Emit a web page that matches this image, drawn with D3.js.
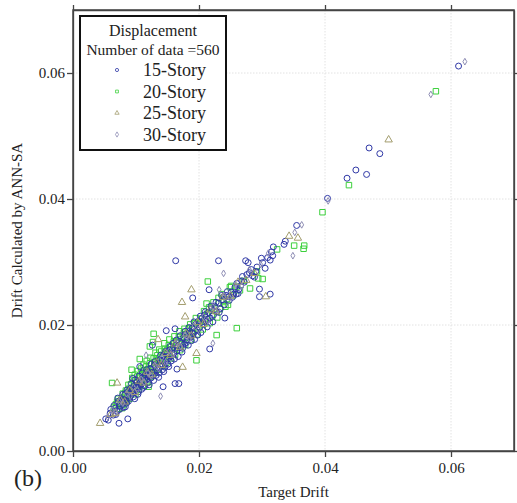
<!doctype html>
<html lang="en">
<head>
    <title>Drift scatter</title>
    <script src='https://d3js.org/d3.v7.min.js'></script>
    <style>
        body { margin: 0; background: #fff; }
        svg text { font-family: "Liberation Serif", "Times New Roman", serif; fill: #222; }
        .grid line { stroke: #e2e2e2; stroke-width: 1; stroke-dasharray: 1.5 1.5; }
        .axis path, .axis line { stroke: #444; stroke-width: 1.3; }
        .axis text { font-family: "Liberation Serif", serif; font-size: 15px; }
    </style>
</head>
<body>
<div id="chart"></div>
<script>
    // Tick values for both axes
    var xTicks = [0, 0.02, 0.04, 0.06];
    var yTicks = [0, 0.02, 0.04, 0.06];

    // Series labels (legend order)
    var seriesNames = ["15-Story", "20-Story", "25-Story", "30-Story"];

    // [target drift, drift calculated by ANN-SA]
    var story15 = [
        [0.0052,0.0051],[0.0073,0.0044],[0.0087,0.0051],[0.0059,0.0060],[0.0056,0.0049],[0.0064,0.0057],[0.0067,0.0068],
        [0.0070,0.0063],[0.0072,0.0079],[0.0075,0.0071],[0.0077,0.0083],[0.0079,0.0074],[0.0080,0.0069],[0.0082,0.0089],
        [0.0084,0.0080],[0.0085,0.0076],[0.0087,0.0094],[0.0089,0.0085],[0.0091,0.0099],[0.0092,0.0088],[0.0095,0.0115],
        [0.0095,0.0092],[0.0097,0.0104],[0.0098,0.0083],[0.0100,0.0097],[0.0101,0.0109],[0.0103,0.0101],[0.0104,0.0094],
        [0.0106,0.0134],[0.0106,0.0112],[0.0108,0.0105],[0.0109,0.0098],[0.0111,0.0117],[0.0112,0.0110],[0.0114,0.0103],
        [0.0115,0.0121],[0.0117,0.0114],[0.0118,0.0126],[0.0120,0.0109],[0.0121,0.0119],[0.0123,0.0131],[0.0124,0.0116],
        [0.0126,0.0168],[0.0126,0.0125],[0.0128,0.0112],[0.0129,0.0136],[0.0131,0.0127],[0.0132,0.0120],[0.0134,0.0140],
        [0.0135,0.0132],[0.0137,0.0124],[0.0138,0.0145],[0.0140,0.0136],[0.0142,0.0129],[0.0143,0.0102],[0.0143,0.0151],
        [0.0145,0.0141],[0.0146,0.0133],[0.0148,0.0191],[0.0148,0.0155],[0.0150,0.0146],[0.0151,0.0138],[0.0153,0.0160],
        [0.0155,0.0150],[0.0156,0.0143],[0.0158,0.0163],[0.0160,0.0155],[0.0162,0.0194],[0.0162,0.0107],[0.0163,0.0302],
        [0.0163,0.0168],[0.0165,0.0130],[0.0165,0.0159],[0.0167,0.0150],[0.0168,0.0107],[0.0169,0.0174],[0.0171,0.0165],
        [0.0173,0.0157],[0.0175,0.0180],[0.0177,0.0170],[0.0179,0.0185],[0.0181,0.0176],[0.0183,0.0168],[0.0185,0.0190],
        [0.0187,0.0181],[0.0189,0.0195],[0.0190,0.0243],[0.0191,0.0186],[0.0193,0.0177],[0.0195,0.0201],[0.0197,0.0192],
        [0.0199,0.0206],[0.0201,0.0196],[0.0203,0.0188],[0.0205,0.0211],[0.0207,0.0201],[0.0209,0.0216],[0.0211,0.0206],
        [0.0213,0.0197],[0.0215,0.0220],[0.0216,0.0256],[0.0217,0.0162],[0.0218,0.0211],[0.0220,0.0226],[0.0223,0.0216],
        [0.0225,0.0230],[0.0228,0.0221],[0.0231,0.0302],[0.0231,0.0235],[0.0234,0.0226],[0.0237,0.0240],[0.0239,0.0245],
        [0.0240,0.0232],[0.0241,0.0211],[0.0243,0.0247],[0.0247,0.0245],[0.0248,0.0239],[0.0251,0.0252],[0.0255,0.0249],
        [0.0259,0.0249],[0.0260,0.0266],[0.0263,0.0256],[0.0266,0.0262],[0.0269,0.0277],[0.0272,0.0268],[0.0274,0.0302],
        [0.0278,0.0299],[0.0280,0.0283],[0.0285,0.0278],[0.0292,0.0292],[0.0290,0.0285],[0.0296,0.0257],[0.0296,0.0245],
        [0.0301,0.0299],[0.0305,0.0290],[0.0309,0.0307],[0.0313,0.0249],[0.0313,0.0303],[0.0315,0.0316],[0.0317,0.0310],
        [0.0318,0.0324],[0.0335,0.0328],[0.0337,0.0333],[0.0355,0.0358],[0.0404,0.0401],[0.0435,0.0433],[0.0449,0.0446],
        [0.0466,0.0439],[0.0470,0.0481],[0.0487,0.0472],[0.0612,0.0611],
        [0.0060,0.0066],[0.0065,0.0072],[0.0068,0.0058],[0.0071,0.0084],[0.0074,0.0066],[0.0077,0.0078],[0.0079,0.0090],
        [0.0081,0.0079],[0.0083,0.0070],[0.0086,0.0097],[0.0088,0.0079],[0.0090,0.0092],[0.0093,0.0107],[0.0094,0.0096],
        [0.0096,0.0086],[0.0099,0.0113],[0.0101,0.0102],[0.0103,0.0090],[0.0105,0.0119],[0.0107,0.0108],[0.0110,0.0124],
        [0.0112,0.0101],[0.0114,0.0112],[0.0117,0.0129],[0.0119,0.0121],[0.0121,0.0105],[0.0124,0.0138],[0.0127,0.0120],
        [0.0130,0.0142],[0.0133,0.0129],[0.0136,0.0117],[0.0139,0.0152],[0.0141,0.0143],[0.0144,0.0126],[0.0147,0.0158],
        [0.0149,0.0150],[0.0152,0.0134],[0.0154,0.0166],[0.0157,0.0154],[0.0159,0.0171],[0.0161,0.0146],[0.0164,0.0176],
        [0.0166,0.0164],[0.0170,0.0183],[0.0172,0.0171],[0.0174,0.0163],[0.0178,0.0190],[0.0180,0.0172],[0.0184,0.0196],
        [0.0186,0.0185],[0.0188,0.0175],[0.0192,0.0205],[0.0194,0.0190],[0.0198,0.0184],[0.0202,0.0214],[0.0206,0.0205],
        [0.0210,0.0221],[0.0214,0.0209],[0.0219,0.0230],[0.0222,0.0205],[0.0227,0.0236],[0.0232,0.0220],[0.0236,0.0247],
        [0.0245,0.0253],[0.0253,0.0244],[0.0257,0.0260],[0.0262,0.0250],[0.0268,0.0270],[0.0276,0.0280],[0.0283,0.0288],
        [0.0288,0.0276],[0.0299,0.0306]
    ];

    var story20 = [
        [0.0065,0.0069],[0.0070,0.0078],[0.0073,0.0067],[0.0075,0.0072],[0.0078,0.0068],[0.0080,0.0085],[0.0081,0.0074],
        [0.0083,0.0092],[0.0085,0.0079],[0.0087,0.0088],[0.0089,0.0099],[0.0090,0.0083],[0.0092,0.0106],[0.0093,0.0129],
        [0.0095,0.0094],[0.0097,0.0112],[0.0099,0.0090],[0.0100,0.0104],[0.0102,0.0118],[0.0104,0.0097],[0.0106,0.0146],
        [0.0107,0.0110],[0.0109,0.0123],[0.0111,0.0104],[0.0113,0.0128],[0.0114,0.0116],[0.0116,0.0134],[0.0118,0.0109],
        [0.0120,0.0102],[0.0120,0.0124],[0.0122,0.0166],[0.0122,0.0139],[0.0124,0.0118],[0.0126,0.0131],[0.0127,0.0173],
        [0.0128,0.0147],[0.0130,0.0124],[0.0132,0.0137],[0.0134,0.0152],[0.0136,0.0129],[0.0138,0.0143],[0.0140,0.0158],
        [0.0142,0.0135],[0.0144,0.0149],[0.0146,0.0162],[0.0148,0.0140],[0.0150,0.0155],[0.0152,0.0168],[0.0155,0.0147],
        [0.0157,0.0161],[0.0160,0.0174],[0.0162,0.0153],[0.0165,0.0167],[0.0168,0.0181],[0.0170,0.0160],[0.0173,0.0173],
        [0.0176,0.0188],[0.0178,0.0168],[0.0181,0.0180],[0.0184,0.0195],[0.0187,0.0176],[0.0190,0.0188],[0.0193,0.0203],
        [0.0196,0.0144],[0.0197,0.0185],[0.0200,0.0197],[0.0203,0.0210],[0.0206,0.0193],[0.0209,0.0206],[0.0212,0.0234],
        [0.0213,0.0218],[0.0214,0.0269],[0.0217,0.0203],[0.0221,0.0214],[0.0225,0.0226],[0.0228,0.0184],[0.0229,0.0212],
        [0.0233,0.0225],[0.0238,0.0238],[0.0242,0.0229],[0.0246,0.0232],[0.0249,0.0260],[0.0251,0.0262],[0.0254,0.0247],
        [0.0260,0.0261],[0.0260,0.0195],[0.0265,0.0255],[0.0271,0.0270],[0.0281,0.0258],[0.0292,0.0285],[0.0294,0.0274],
        [0.0301,0.0273],[0.0324,0.0320],[0.0351,0.0326],[0.0366,0.0321],[0.0367,0.0326],[0.0396,0.0379],[0.0438,0.0422],
        [0.0576,0.0571],[0.0062,0.0108],[0.0128,0.0186],
        [0.0068,0.0074],[0.0072,0.0083],[0.0076,0.0080],[0.0079,0.0091],[0.0082,0.0081],[0.0084,0.0096],[0.0086,0.0084],
        [0.0088,0.0105],[0.0091,0.0095],[0.0094,0.0116],[0.0096,0.0101],[0.0098,0.0121],[0.0101,0.0110],[0.0103,0.0127],
        [0.0105,0.0103],[0.0108,0.0131],[0.0110,0.0115],[0.0112,0.0137],[0.0115,0.0122],[0.0117,0.0143],[0.0119,0.0130],
        [0.0123,0.0148],[0.0125,0.0126],[0.0129,0.0141],[0.0131,0.0156],[0.0135,0.0145],[0.0137,0.0161],[0.0141,0.0148],
        [0.0145,0.0171],[0.0149,0.0160],[0.0153,0.0177],[0.0156,0.0165],[0.0161,0.0182],[0.0164,0.0172],[0.0169,0.0190],
        [0.0172,0.0178],[0.0177,0.0194],[0.0182,0.0187],[0.0186,0.0201],[0.0191,0.0195],[0.0195,0.0211],[0.0201,0.0205],
        [0.0208,0.0222],[0.0216,0.0228],[0.0223,0.0236],[0.0231,0.0243],[0.0236,0.0249],[0.0244,0.0241]
    ];

    var story25 = [
        [0.0043,0.0044],[0.0067,0.0060],[0.0070,0.0108],[0.0188,0.0256],[0.0173,0.0236],[0.0178,0.0213],[0.0135,0.0177],
        [0.0196,0.0155],[0.0174,0.0133],[0.0343,0.0341],[0.0357,0.0338],[0.0288,0.0282],[0.0306,0.0245],[0.0501,0.0494],
        [0.0060,0.0058],[0.0075,0.0081],[0.0082,0.0078],[0.0090,0.0096],[0.0098,0.0093],[0.0105,0.0111],[0.0112,0.0108],
        [0.0118,0.0125],[0.0125,0.0121],[0.0133,0.0140],[0.0140,0.0136],[0.0147,0.0155],[0.0155,0.0152],[0.0162,0.0170],
        [0.0170,0.0165],[0.0180,0.0186],[0.0188,0.0183],[0.0198,0.0204],[0.0207,0.0201],[0.0218,0.0224],[0.0227,0.0221],
        [0.0238,0.0244],[0.0250,0.0246],[0.0262,0.0268],[0.0275,0.0271]
    ];

    var story30 = [
        [0.0239,0.0282],[0.0116,0.0152],[0.0222,0.0171],[0.0139,0.0087],[0.0405,0.0397],[0.0363,0.0359],[0.0352,0.0347],
        [0.0349,0.0310],[0.0232,0.0256],[0.0568,0.0566],[0.0622,0.0618],
        [0.0055,0.0054],[0.0062,0.0065],[0.0068,0.0062],[0.0074,0.0078],[0.0079,0.0076],[0.0085,0.0091],[0.0091,0.0087],
        [0.0096,0.0101],[0.0102,0.0097],[0.0108,0.0114],[0.0113,0.0109],[0.0119,0.0124],[0.0124,0.0119],[0.0130,0.0136],
        [0.0136,0.0131],[0.0141,0.0148],[0.0147,0.0141],[0.0153,0.0159],[0.0159,0.0153],[0.0165,0.0172],[0.0171,0.0166],
        [0.0178,0.0184],[0.0185,0.0178],[0.0192,0.0198],[0.0199,0.0193],[0.0207,0.0213],[0.0214,0.0207],[0.0222,0.0229],
        [0.0230,0.0224],[0.0240,0.0246],[0.0249,0.0243],[0.0258,0.0264],[0.0268,0.0262],[0.0280,0.0288],[0.0298,0.0296],
        [0.0310,0.0314]
    ];

    var seriesData = [story15, story20, story25, story30];
    var drawOrder  = [1, 0, 2, 3];

    // Graph size
    var width  = 517;
    var height = 503;
    var margin = { top: 10, right: 3, bottom: 52, left: 73 };
    var plotW  = width - margin.left - margin.right;
    var plotH  = height - margin.top - margin.bottom;

    var svg = d3.select("#chart")
        .append("svg")
        .attr("width", width)
        .attr("height", height);

    var g = svg.append("g")
        .attr("transform", "translate(" + margin.left + "," + margin.top + ")");

    var x = d3.scaleLinear().domain([0, 0.07]).range([0, plotW]);
    var y = d3.scaleLinear().domain([0, 0.07]).range([plotH, 0]);

    // Light dotted grid
    var grid = g.append("g").attr("class", "grid");
    grid.selectAll(".gx")
        .data(xTicks.slice(1))
        .enter().append("line")
        .attr("x1", function(d) { return x(d); })
        .attr("x2", function(d) { return x(d); })
        .attr("y1", 0).attr("y2", plotH);
    grid.selectAll(".gy")
        .data(yTicks.slice(1))
        .enter().append("line")
        .attr("y1", function(d) { return y(d); })
        .attr("y2", function(d) { return y(d); })
        .attr("x1", 0).attr("x2", plotW);

    // Marker shapes, one per series
    var symbols = [d3.symbolCircle, d3.symbolSquare, d3.symbolTriangle, d3.symbolDiamond];
    var sizes   = [28, 30, 24, 13];
    var colors  = ["#2f38a6", "#3cd03c", "#a39d6e", "#8e8db4"];

    drawOrder.forEach(function(i) {
        g.append("g")
            .selectAll("path")
            .data(seriesData[i])
            .enter()
            .append("path")
            .attr("transform", function(d) { return "translate(" + x(d[0]) + "," + y(d[1]) + ")"; })
            .attr("d", d3.symbol().type(symbols[i]).size(sizes[i]))
            .attr("fill", "none")
            .attr("stroke", colors[i])
            .attr("stroke-width", 1);
    });

    // Axes: labelled on bottom/left, plain ticks on top/right
    var fmt = d3.format(".2f");
    g.append("g").attr("class", "axis")
        .attr("transform", "translate(0," + plotH + ")")
        .call(d3.axisBottom(x).tickValues(xTicks).tickFormat(fmt).tickSize(6).tickSizeOuter(0).tickPadding(5));
    g.append("g").attr("class", "axis")
        .call(d3.axisLeft(y).tickValues(yTicks).tickFormat(fmt).tickSize(6).tickSizeOuter(0).tickPadding(2));
    g.append("g").attr("class", "axis")
        .call(d3.axisTop(x).tickValues(xTicks).tickFormat("").tickSize(5).tickSizeOuter(0));
    g.append("g").attr("class", "axis")
        .attr("transform", "translate(" + plotW + ",0)")
        .call(d3.axisRight(y).tickValues(yTicks).tickFormat("").tickSize(5).tickSizeOuter(0));

    // Frame
    g.append("rect")
        .attr("width", plotW).attr("height", plotH)
        .attr("fill", "none").attr("stroke", "#444").attr("stroke-width", 1.5);

    // Axis titles
    svg.append("text")
        .attr("x", margin.left + plotW / 2)
        .attr("y", 497)
        .attr("text-anchor", "middle")
        .style("font-size", "15px")
        .text("Target Drift");

    svg.append("text")
        .attr("transform", "translate(22," + (margin.top + plotH / 2) + ") rotate(-90)")
        .attr("text-anchor", "middle")
        .style("font-size", "15px")
        .text("Drift Calculated by ANN-SA");

    svg.append("text")
        .attr("x", 14).attr("y", 486)
        .style("font-size", "24px")
        .text("(b)");

    // Legend
    var legend = svg.append("g").attr("transform", "translate(80,16)");
    legend.append("rect")
        .attr("width", 146).attr("height", 134)
        .attr("fill", "#fff").attr("stroke", "#111").attr("stroke-width", 2);
    legend.append("text")
        .attr("x", 73).attr("y", 20)
        .attr("text-anchor", "middle")
        .style("font-size", "16px")
        .text("Displacement");
    legend.append("text")
        .attr("x", 73).attr("y", 39)
        .attr("text-anchor", "middle")
        .style("font-size", "15.5px")
        .text("Number of data =560");

    var item = legend.selectAll(".item")
        .data(seriesNames)
        .enter().append("g")
        .attr("transform", function(d, i) { return "translate(0," + (60 + i * 21.5) + ")"; });
    item.append("path")
        .attr("transform", "translate(37,-6)")
        .attr("d", function(d, i) { return d3.symbol().type(symbols[i]).size(8)(); })
        .attr("fill", "none")
        .attr("stroke", function(d, i) { return colors[i]; })
        .attr("stroke-width", 0.8);
    item.append("text")
        .attr("x", 63)
        .style("font-size", "18px")
        .text(function(d) { return d; });
</script>
</body>
</html>
